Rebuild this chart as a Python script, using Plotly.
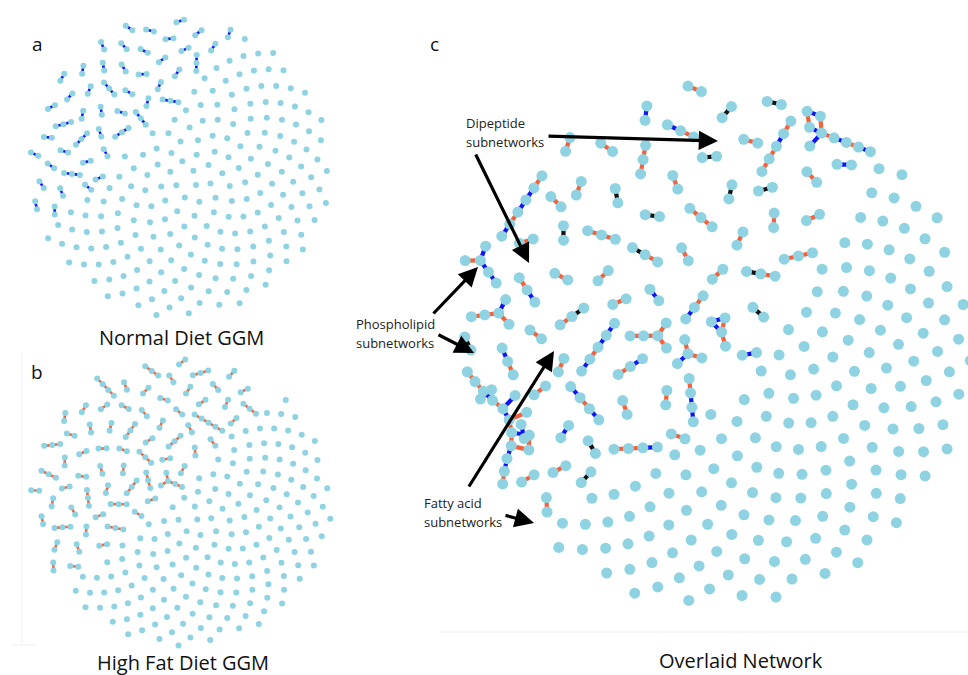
import numpy as np
import plotly.graph_objects as go

# ---------------------------------------------------------------- data
# Edge types: "r" = red, "b" = blue, "k" = black.
# A chain component is written as the string of its successive edge types
# ("b" = two nodes joined by a blue edge, "rb" = three nodes, ...);
# branched components are explicit (node, node, type) edge lists.

A_COMPONENTS = [
    "bb", "bb", "bb", "b", "b", "b", "b", "b", "b", "b", "b", "b", "b", "b", "b",
    "bb", "bb", "bb", "bb", "b", "b", "b", "b", "b", "b", "b", "b",
    "bb", "b", "b", "b", "b", "b", "b", "b", "b", "b", "b", "b",
    "b", "b", "b", "b", "b", "b", "b", "b", "b",
]
A_SINGLES = 205

B_COMPONENTS = [
    [(0, 1, "r"), (0, 2, "r"), (0, 3, "r"), (3, 4, "r")],
    "r", "r", "rr", "r", "r", "rr", "r", "rr", "rr", "rr", "r", "r", "rr", "r",
    "r", "r", "r", "r", "r", "r", "rrrr", "r", "rr", "rr", "r", "r", "r", "r",
    "r", "r", "r", "r", "r", "r", "r", "r", "r", "r", "r", "r", "r", "rr",
    "rr", "r", "r", "r", "r", "r", "r", "r", "r", "r", "r", "r", "rr", "rr",
    "r", "r", "rr", "rr", "r", "r", "rrr", "r", "r", "r",
]
B_SINGLES = 175

DIPEPTIDE = [(0, 1, "b"), (2, 1, "r"), (1, 3, "b"), (3, 4, "r"), (3, 5, "r"),
             (5, 6, "b"), (6, 7, "r"), (7, 8, "r"), (5, 8, "r"), (8, 9, "b"),
             (9, 10, "b"), (10, 11, "r"), (2, 12, "b"), (12, 13, "r"), (13, 14, "r")]
PHOSPHOLIPID = [(0, 1, "b"), (1, 2, "r"), (2, 3, "b"), (3, 4, "r"), (5, 4, "b"),
                (4, 6, "b"), (6, 7, "r"), (7, 8, "b"), (8, 4, "r")]

C_COMPONENTS = [
    [(0, 1, "r"), (1, 2, "b"), (1, 3, "r"), (2, 3, "b")],
    [(0, 1, "r"), (0, 2, "r"), (0, 3, "b")],
    "b", "rb", "rbb", "k",
    [(0, 1, "r"), (1, 2, "r"), (2, 3, "r"), (2, 4, "r")],
    "r", "r", "b", "kr", "br", "brbbr", "r", "r", "r", "r", "r",
    "kr", "rr", "brbb", DIPEPTIDE, "rr", "brr", "r", "r", "brb", "k", "rk",
    "k", "k", "rr", "r", "r", "r", "r", "k", "b", "k", "r", "k", "k", "k", "r",
    PHOSPHOLIPID, "r", "rr", "rb", "r", "r", "r", "rb", "br", "r", "rrbr",
    "b", "r",
    [(0, 1, "r"), (1, 2, "r"), (2, 3, "r"), (1, 4, "b")],
    "k", "r", "r", "b", "r", "b",
    [(0, 1, "b"), (1, 2, "b"), (2, 3, "b"), (1, 4, "r")],
    "k", "r", "r", "k", "r",
]
C_SINGLES = 163

PANEL_TITLES = ["Normal Diet GGM", "High Fat Diet GGM", "Overlaid Network"]
PANEL_LETTERS = ["a", "b", "c"]
CALLOUTS = [("Dipeptide", "subnetworks"), ("Phospholipid", "subnetworks"),
            ("Fatty acid", "subnetworks")]

# ---------------------------------------------------------------- style
W, H = 968, 675
NODE_COLOR = "#8FD3E3"
EDGE_COLORS = {"r": "#F5603A", "b": "#0F14F2", "k": "#111111"}
FONT = "Open Sans"

PANELS = [
    dict(comps=A_COMPONENTS, singles=A_SINGLES, cx=180, cy=167, rx=151, ry=150,
         u=(-0.72, 0.69), h=0.32, curve=0.0, L=8.0, node=6.0, edge_w=2.6,
         gap=11.0, phase=0.9),
    dict(comps=B_COMPONENTS, singles=B_SINGLES, cx=182, cy=503, rx=150, ry=143,
         u=(-0.70, 0.71), h=0.10, curve=0.0, L=8.0, node=6.0, edge_w=2.6,
         gap=11.0, phase=0.4),
    dict(comps=C_COMPONENTS, singles=C_SINGLES, cx=715, cy=345, rx=256, ry=264,
         u=(-0.74, 0.67), h=-0.17, curve=0.26, L=14.5, node=11.0, edge_w=4.2,
         gap=19.0, phase=1.3),
]

GOLDEN = np.pi * (3 - np.sqrt(5))


# ---------------------------------------------------------------- layout helpers
def to_edges(comp):
    if isinstance(comp, str):
        return [(i, i + 1, t) for i, t in enumerate(comp)]
    return list(comp)


def component_shape(edges, L):
    """Stress-majorisation layout of one connected component."""
    n = 1 + max(max(i, j) for i, j, _ in edges)
    adj = [[] for _ in range(n)]
    for i, j, _ in edges:
        adj[i].append(j)
        adj[j].append(i)
    D = np.zeros((n, n))
    for s in range(n):
        dist = [-1] * n
        dist[s] = 0
        q = [s]
        for v in q:
            for w in adj[v]:
                if dist[w] < 0:
                    dist[w] = dist[v] + 1
                    q.append(w)
        D[s] = dist
    J = np.eye(n) - 1.0 / n
    B = -0.5 * J @ (D ** 2) @ J
    vals, vecs = np.linalg.eigh(B)
    order = np.argsort(vals)[::-1][:2]
    X = vecs[:, order] * np.sqrt(np.clip(vals[order], 1e-6, None))
    for _ in range(300):
        diff = X[:, None, :] - X[None, :, :]
        dd = np.sqrt((diff ** 2).sum(-1))
        np.fill_diagonal(dd, 1.0)
        Bm = -D / np.maximum(dd, 1e-9)
        np.fill_diagonal(Bm, 0.0)
        np.fill_diagonal(Bm, -Bm.sum(1))
        X = Bm @ X / n
    X = X - X.mean(0)
    w, V = np.linalg.eigh(X.T @ X)
    X = X @ V[:, ::-1]
    el = np.mean([np.linalg.norm(X[i] - X[j]) for i, j, _ in edges])
    return X * (L / el)


def to_screen(P, c):
    return np.c_[c["cx"] + c["rx"] * P[:, 0], c["cy"] - c["ry"] * P[:, 1]]


def to_unit(S, c):
    return np.c_[(S[:, 0] - c["cx"]) / c["rx"], (c["cy"] - S[:, 1]) / c["ry"]]


def side_score(P, c):
    u = np.array(c["u"], float)
    u /= np.linalg.norm(u)
    v = np.array([u[1], -u[0]])
    return P @ u - c["curve"] * (P @ v) ** 2


def region_slots(n, c, side):
    """Sunflower slots restricted to one side of the panel's split."""
    M = max(n, 1)
    while True:
        k = np.arange(M) + 0.5
        r = np.sqrt(k / M)
        t = k * GOLDEN
        P = np.c_[r * np.cos(t), r * np.sin(t)]
        s = side_score(P, c)
        sel = (s > c["h"]) if side > 0 else (s <= c["h"])
        if sel.sum() >= n:
            break
        M += 1
    P, s = P[sel], s[sel]
    keep = np.argsort(-side * s, kind="stable")[:n]
    return P[np.sort(keep)]


def relax(centers, offsets, singles, c, iters=300):
    owner = np.concatenate([np.full(len(o), i) for i, o in enumerate(offsets)])
    offs = np.vstack(offsets)
    m = len(offsets)
    cnt = np.bincount(owner, minlength=m).astype(float)
    md = c["gap"]
    same = owner[:, None] == owner[None, :]
    rad = np.array([np.hypot(o[:, 0], o[:, 1]).max() for o in offsets])
    lim = 1 - 0.5 * rad / min(c["rx"], c["ry"])
    for _ in range(iters):
        P = centers[owner] + offs
        diff = P[:, None, :] - P[None, :, :]
        d = np.sqrt((diff ** 2).sum(-1)) + 1e-9
        ov = np.where(same | (d >= md), 0.0, (md - d) / 2)
        push = (diff / d[..., None] * ov[..., None]).sum(1)
        diff2 = P[:, None, :] - singles[None, :, :]
        d2 = np.sqrt((diff2 ** 2).sum(-1)) + 1e-9
        ov2 = np.where(d2 >= md, 0.0, md - d2)
        push += (diff2 / d2[..., None] * ov2[..., None]).sum(1)
        move = np.zeros((m, 2))
        np.add.at(move, owner, push)
        centers = centers + move / cnt[:, None]
        U = to_unit(centers, c)
        r = np.hypot(U[:, 0], U[:, 1]) + 1e-9
        f = np.where(r > lim, lim / r, 1.0)
        centers = to_screen(U * f[:, None], c)
    return centers


def layout_panel(c):
    comps = [to_edges(x) for x in c["comps"]]
    shapes = [component_shape(e, c["L"]) for e in comps]
    slots = to_screen(region_slots(len(comps), c, +1), c)
    singles = to_screen(region_slots(c["singles"], c, -1), c)
    ru = np.hypot(*to_unit(slots, c).T)
    big = sorted([i for i, s in enumerate(shapes) if len(s) >= 6],
                 key=lambda i: -len(shapes[i]))
    outer = list(np.argsort(-ru, kind="stable"))
    assign, used = {}, set()
    for i, sl in zip(big, outer):
        assign[i] = sl
        used.add(sl)
    rest = [s for s in range(len(slots)) if s not in used]
    for i in range(len(shapes)):
        if i not in assign:
            assign[i] = rest.pop(0)
    centers = np.array([slots[assign[i]] for i in range(len(shapes))], float)
    offsets = []
    for i, X in enumerate(shapes):
        if len(X) >= 6:
            d = centers[i] - np.array([c["cx"], c["cy"]])
            ang = np.arctan2(d[1], d[0]) + np.pi / 2
        else:
            ang = i * GOLDEN + c["phase"]
        R = np.array([[np.cos(ang), -np.sin(ang)], [np.sin(ang), np.cos(ang)]])
        offsets.append(X @ R.T)
    centers = relax(centers, offsets, singles, c)
    nodes = [centers[i] + offsets[i] for i in range(len(shapes))]
    return comps, nodes, singles


# ---------------------------------------------------------------- figure
fig = go.Figure()
for c in PANELS:
    comps, nodes, singles = layout_panel(c)
    for t, col in EDGE_COLORS.items():
        xs, ys = [], []
        for edges, P in zip(comps, nodes):
            for i, j, tt in edges:
                if tt == t:
                    xs += [P[i, 0], P[j, 0], None]
                    ys += [P[i, 1], P[j, 1], None]
        if xs:
            fig.add_trace(go.Scatter(x=xs, y=ys, mode="lines",
                                     line=dict(color=col, width=c["edge_w"]),
                                     hoverinfo="skip", showlegend=False))
    allp = np.vstack(nodes + [singles])
    fig.add_trace(go.Scatter(x=allp[:, 0], y=allp[:, 1], mode="markers",
                             marker=dict(color=NODE_COLOR, size=c["node"],
                                         line=dict(width=0)),
                             hoverinfo="skip", showlegend=False))

ann = []
# panel letters
for letter, (x, y) in zip(PANEL_LETTERS, [(37, 44), (37, 372), (434, 44)]):
    ann.append(dict(x=x, y=y, text=letter, showarrow=False,
                    font=dict(family=FONT, size=19, color="#111")))
# panel titles
for title, (x, y) in zip(PANEL_TITLES, [(181, 337), (183, 662), (741, 660)]):
    ann.append(dict(x=x, y=y, text=title, showarrow=False,
                    font=dict(family=FONT, size=20, color="#111")))
# call-out labels
for (l1, l2), (x, y) in zip(CALLOUTS, [(464, 123), (354, 324), (422, 503)]):
    for k, line in enumerate((l1, l2)):
        ann.append(dict(x=x, y=y + 19 * k, text=line, showarrow=False,
                        xanchor="left", font=dict(family=FONT, size=13, color="#222")))
# call-out arrows (tail -> tip)
for (tx, ty), (hx, hy) in [((547, 136), (718, 141)), ((475, 153), (529, 263)),
                           ((432, 315), (478, 267)), ((437, 334), (474, 353)),
                           ((468, 488), (554, 351)), ((504, 515), (534, 523))]:
    ann.append(dict(x=hx, y=hy, ax=tx, ay=ty, axref="x", ayref="y", text="",
                    showarrow=True, arrowhead=2, arrowsize=1.2, arrowwidth=3.2,
                    arrowcolor="#000", standoff=0))
for a in ann:
    a.setdefault("xref", "x")
    a.setdefault("yref", "y")

fig.update_layout(
    width=W, height=H, margin=dict(l=0, r=0, t=0, b=0),
    paper_bgcolor="white", plot_bgcolor="white",
    xaxis=dict(range=[0, W], visible=False, fixedrange=True),
    yaxis=dict(range=[H, 0], visible=False, fixedrange=True),
    annotations=ann,
    shapes=[dict(type="line", xref="x", yref="y", x0=440, x1=968, y0=632, y1=632,
                 line=dict(color="#ececec", width=1)),
            dict(type="line", xref="x", yref="y", x0=22, x1=22, y0=352, y1=644,
                 line=dict(color="#f0f0f0", width=1)),
            dict(type="line", xref="x", yref="y", x0=12, x1=36, y0=645, y1=645,
                 line=dict(color="#f0f0f0", width=1))],
)
fig.write_html("out.html", config={"displayModeBar": False},
               post_script="document.body.style.margin='0';"
                           "document.body.style.overflow='hidden';")
